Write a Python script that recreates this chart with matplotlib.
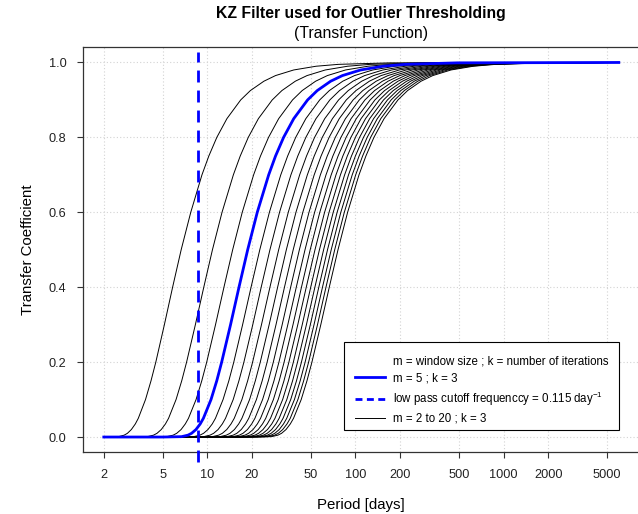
import matplotlib
matplotlib.use("Agg")
import matplotlib.pyplot as plt
from matplotlib.lines import Line2D
from matplotlib.patches import Rectangle

plt.rcParams["font.family"] = ["Liberation Sans", "DejaVu Sans"]
plt.rcParams["mathtext.fontset"] = "custom"
plt.rcParams["mathtext.rm"] = "Liberation Sans"
plt.rcParams["mathtext.it"] = "Liberation Sans"

# transfer coefficient levels
levels = [0, 0.001, 0.005, 0.01, 0.02, 0.035, 0.05, 0.1, 0.15, 0.2, 0.3, 0.4, 0.5,
          0.6, 0.7, 0.75, 0.8, 0.85, 0.9, 0.925, 0.95, 0.965, 0.98, 0.99, 0.995, 0.999]
# window sizes m (k = 3 for all)
windows = list(range(2, 21))
# period [days] at which each curve reaches the levels above
periods = [
    [2, 2.515, 2.745, 2.889, 3.07, 3.266, 3.42, 3.825, 4.166, 4.49, 5.13, 5.83, 6.66, 7.73, 9.20, 10.23, 11.59, 13.56, 16.8, 19.53, 24.1, 28.86, 38.3, 54.3, 76.9, 172],
    [3, 3.936, 4.334, 4.576, 4.887, 5.215, 5.474, 6.150, 6.716, 7.245, 8.305, 9.465, 10.83, 12.57, 14.99, 16.67, 18.90, 22.12, 27.43, 31.88, 39.28, 47.11, 62.6, 88.66, 125.5, 281],
    [4, 5.327, 5.879, 6.216, 6.651, 7.102, 7.460, 8.394, 9.172, 9.905, 11.36, 12.95, 14.83, 17.21, 20.54, 22.84, 25.90, 30.32, 37.61, 43.70, 53.86, 64.60, 85.8, 121.6, 172.1, 386],
    [5, 6.701, 7.402, 7.831, 8.382, 8.955, 9.408, 10.59, 11.58, 12.50, 14.35, 16.36, 18.73, 21.74, 25.96, 28.86, 32.73, 38.32, 47.53, 55.23, 68.06, 81.64, 108.5, 153.7, 217.5, 487],
    [6, 8.069, 8.919, 9.437, 10.10, 10.80, 11.35, 12.77, 13.97, 15.09, 17.31, 19.74, 22.61, 26.25, 31.33, 34.84, 39.51, 46.25, 57.38, 66.67, 82.16, 98.56, 130.9, 185.5, 262.6, 588],
    [7, 9.434, 10.43, 11.04, 11.82, 12.63, 13.27, 14.95, 16.34, 17.66, 20.27, 23.11, 26.47, 30.73, 36.68, 40.79, 46.26, 54.16, 67.18, 78.07, 96.2, 115.4, 153.3, 217.2, 307.5, 689],
    [8, 10.80, 11.94, 12.64, 13.53, 14.46, 15.20, 17.12, 18.72, 20.22, 23.21, 26.47, 30.32, 35.20, 42.02, 46.72, 52.99, 62.04, 76.96, 89.43, 110.2, 132.2, 175.6, 248.8, 352.2, 789],
    [9, 12.16, 13.45, 14.23, 15.24, 16.29, 17.12, 19.29, 21.09, 22.78, 26.15, 29.83, 34.16, 39.66, 47.35, 52.65, 59.71, 69.91, 86.72, 100.8, 124.2, 149.0, 197.9, 280.4, 396.9, 889],
    [10, 13.52, 14.95, 15.83, 16.95, 18.12, 19.04, 21.45, 23.46, 25.34, 29.09, 33.18, 38.00, 44.12, 52.67, 58.57, 66.42, 77.76, 96.47, 112.1, 138.1, 165.7, 220.1, 311.9, 441.5, 989],
    [11, 14.88, 16.46, 17.42, 18.66, 19.94, 20.96, 23.61, 25.82, 27.90, 32.02, 36.53, 41.83, 48.57, 57.98, 64.48, 73.12, 85.61, 106.2, 123.4, 152.1, 182.5, 242.4, 343.4, 486.1, 1089],
    [12, 16.23, 17.96, 19.01, 20.36, 21.77, 22.88, 25.77, 28.18, 30.45, 34.95, 39.87, 45.66, 53.01, 63.29, 70.38, 79.82, 93.46, 115.9, 134.7, 166.0, 199.2, 264.6, 374.9, 530.5, 1189],
    [13, 17.59, 19.46, 20.60, 22.07, 23.59, 24.80, 27.93, 30.55, 33.00, 37.89, 43.22, 49.49, 57.46, 68.60, 76.29, 86.51, 101.3, 125.7, 146.0, 180.0, 215.9, 286.8, 406.3, 575.1, 1288],
    [14, 18.95, 20.97, 22.20, 23.77, 25.41, 26.71, 30.09, 32.91, 35.55, 40.81, 46.56, 53.32, 61.91, 73.91, 82.19, 93.20, 109.1, 135.4, 157.3, 193.9, 232.6, 309.0, 437.7, 619.6, 1388],
    [15, 20.31, 22.47, 23.79, 25.48, 27.24, 28.63, 32.25, 35.27, 38.10, 43.74, 49.90, 57.14, 66.35, 79.21, 88.09, 99.89, 117.0, 145.1, 168.6, 207.8, 249.3, 331.1, 469.2, 664.1, 1488],
    [16, 21.66, 23.97, 25.38, 27.18, 29.06, 30.54, 34.41, 37.63, 40.65, 46.67, 53.24, 60.97, 70.79, 84.52, 93.98, 106.6, 124.8, 154.8, 179.9, 221.7, 266.0, 353.3, 500.6, 708.5, 1587],
    [17, 23.02, 25.47, 26.97, 28.89, 30.88, 32.46, 36.56, 39.99, 43.20, 49.60, 56.58, 64.79, 75.23, 89.82, 99.88, 113.3, 132.6, 164.5, 191.2, 235.6, 282.7, 375.5, 532.0, 753.0, 1687],
    [18, 24.38, 26.97, 28.56, 30.59, 32.70, 34.37, 38.72, 42.35, 45.75, 52.53, 59.92, 68.62, 79.67, 95.12, 105.8, 120.0, 140.5, 174.2, 202.5, 249.5, 299.3, 397.6, 563.4, 797.5, 1786],
    [19, 25.73, 28.48, 30.15, 32.29, 34.52, 36.29, 40.88, 44.70, 48.30, 55.45, 63.25, 72.44, 84.11, 100.4, 111.7, 126.6, 148.3, 184.0, 213.8, 263.4, 316.0, 419.8, 594.8, 841.8, 1886],
    [20, 27.09, 29.98, 31.74, 33.99, 36.34, 38.20, 43.03, 47.06, 50.85, 58.37, 66.59, 76.26, 88.55, 105.7, 117.6, 133.3, 156.1, 193.7, 225.0, 277.3, 332.7, 441.9, 626.2, 886.3, 1985],
]
period_min = 2
period_max = 6000
highlight_m = 5
cutoff_freq = 0.115

xticks = [2, 5, 10, 20, 50, 100, 200, 500, 1000, 2000, 5000]
yticks = [0.0, 0.2, 0.4, 0.6, 0.8, 1.0]

fig = plt.figure(figsize=(6.38, 5.14), dpi=100)
ax = fig.add_axes([0.1304, 0.1206, 0.8718, 0.787])

for x in xticks:
    ax.axvline(x, color="#d3d3d3", lw=0.8, ls=(0, (1, 2)), zorder=0)
for y in yticks:
    ax.axhline(y, color="#d3d3d3", lw=0.8, ls=(0, (1, 2)), zorder=0)

for m, p in zip(windows, periods):
    ax.plot([period_min] + p + [period_max], [0] + levels + [1.0], color="black", lw=0.7, zorder=2)

p5 = periods[windows.index(highlight_m)]
ax.plot([period_min] + p5 + [period_max], [0] + levels + [1.0], color="#0000ff", lw=2.0, zorder=3)

ax.axvline(1 / cutoff_freq, ymin=-0.025, ymax=0.99, color="#0000ff", lw=2.0,
           ls=(0, (4.3, 2.9)), clip_on=False, zorder=4)

ax.set_xscale("log")
ax.set_xlim(1.452, 8265)
ax.set_ylim(-0.04, 1.04)
ax.set_xticks(xticks)
ax.set_xticklabels([str(t) for t in xticks])
ax.minorticks_off()
ax.set_yticks(yticks)
ax.set_yticklabels(["%.1f" % t for t in yticks])
ax.tick_params(axis="both", length=4.5, width=0.8, color="#333333", labelsize=9.2,
               labelcolor="#222222", direction="out")
ax.tick_params(axis="x", pad=7.5)
ax.tick_params(axis="y", pad=7.5)
for s in ["left", "top", "bottom"]:
    ax.spines[s].set_color("#333333")
    ax.spines[s].set_linewidth(0.9)
ax.spines["right"].set_visible(False)

fig.text(0.566, 0.973, "KZ Filter used for Outlier Thresholding", ha="center", va="center",
         fontsize=11.3, fontweight="bold")
fig.text(0.566, 0.934, "(Transfer Function)", ha="center", va="center", fontsize=11.3)
fig.text(0.566, 0.0175, "Period [days]", ha="center", va="center", fontsize=10.8)
fig.text(0.044, 0.514, "Transfer Coefficient", ha="center", va="center", rotation=90, fontsize=10.8)

# legend frame drawn separately so the padding matches the original
ax.add_patch(Rectangle((0.4689, 0.0544), 0.4944, 0.2175, transform=ax.transAxes,
                       facecolor="white", edgecolor="black", lw=0.8, zorder=5))
handles = [
    Line2D([], [], color="none"),
    Line2D([], [], color="#0000ff", lw=2.0),
    Line2D([], [], color="#0000ff", lw=2.0, ls=(0, (2.5, 1.6))),
    Line2D([], [], color="black", lw=0.7),
]
labels = [
    "m = window size ; k = number of iterations",
    "m = 5 ; k = 3",
    "low pass cutoff frequenccy = 0.115 day$^{-1}$",
    "m = 2 to 20 ; k = 3",
]
leg = ax.legend(handles, labels, loc="upper left", bbox_to_anchor=(0.4887, 0.2398),
                fontsize=8.3, frameon=False, handlelength=2.6, handletextpad=0.7,
                labelspacing=0.45, borderpad=0, borderaxespad=0)
leg.set_zorder(6)

fig.savefig("out.png", dpi=100)
